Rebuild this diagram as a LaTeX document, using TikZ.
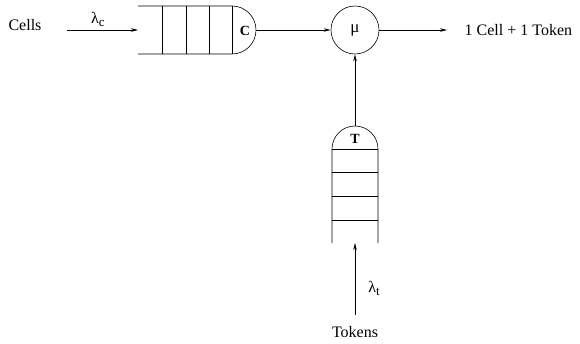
\documentclass[tikz,border=0pt]{standalone}
\usepackage{fontspec}
\setmainfont{Liberation Serif}
\usetikzlibrary{arrows.meta}
\usetikzlibrary{positioning}

\newcommand{\lowsub}[1]{\raisebox{-0.4ex}{\fontsize{13}{15}\selectfont #1}}

\begin{document}
\begin{tikzpicture}[x=1pt, y=1pt, line width=0.6pt,
        every node/.style={font=\fontsize{16}{19}\selectfont},
        flow/.style={-{Stealth[length=7pt, width=3.5pt]}},
        servnode/.style={circle, draw, minimum size=48pt, inner sep=0pt},
        tagnode/.style={font=\fontsize{14}{16}\selectfont\bfseries, inner sep=1pt}]
        \useasboundingbox (0,0) rectangle (580,343);

        % cell buffer, lying on its side
        \draw (138,337) -- (232,337) arc (90:-90:24) -- (138,289);
        \foreach \x in {162,186,209,232}
            \draw (\x,337) -- (\x,289);
        \node[tagnode] (ctag) at (245,312) {C};

        % token buffer, standing up
        \draw (332,100) -- (332,194) arc (180:0:23) -- (378,100);
        \foreach \y in {123,147,171,194}
            \draw (332,\y) -- (378,\y);
        \node[tagnode] (ttag) at (355,204) {T};

        \node[servnode] (mu) at (355,313) {\fontsize{17}{19}\selectfont μ};
        \node (cells) at (25,318) {Cells};
        \node[anchor=west] (out) at (461,313) {1 Cell + 1 Token};
        \node (tokens) at (355,11) {Tokens};
        \node (lamc) at (98,324) {λ\lowsub{c}};
        \node (lamt) at (374,55) {λ\lowsub{t}};

        \coordinate (cfrom) at (67,313);
        \coordinate (cin) at (138,313);
        \coordinate (cout) at (256,313);
        \coordinate (tout) at (355,217);
        \coordinate (tfrom) at (355,28);
        \coordinate (tin) at (355,100);
        \coordinate (outend) at (447,313);

        \draw[flow] (cfrom) -- (cin);
        \draw[flow] (cout) -- (mu);
        \draw[flow] (tout) -- (mu);
        \draw[flow] (mu) -- (outend);
        \draw[flow] (tfrom) -- (tin);
    \end{tikzpicture}
\end{document}
